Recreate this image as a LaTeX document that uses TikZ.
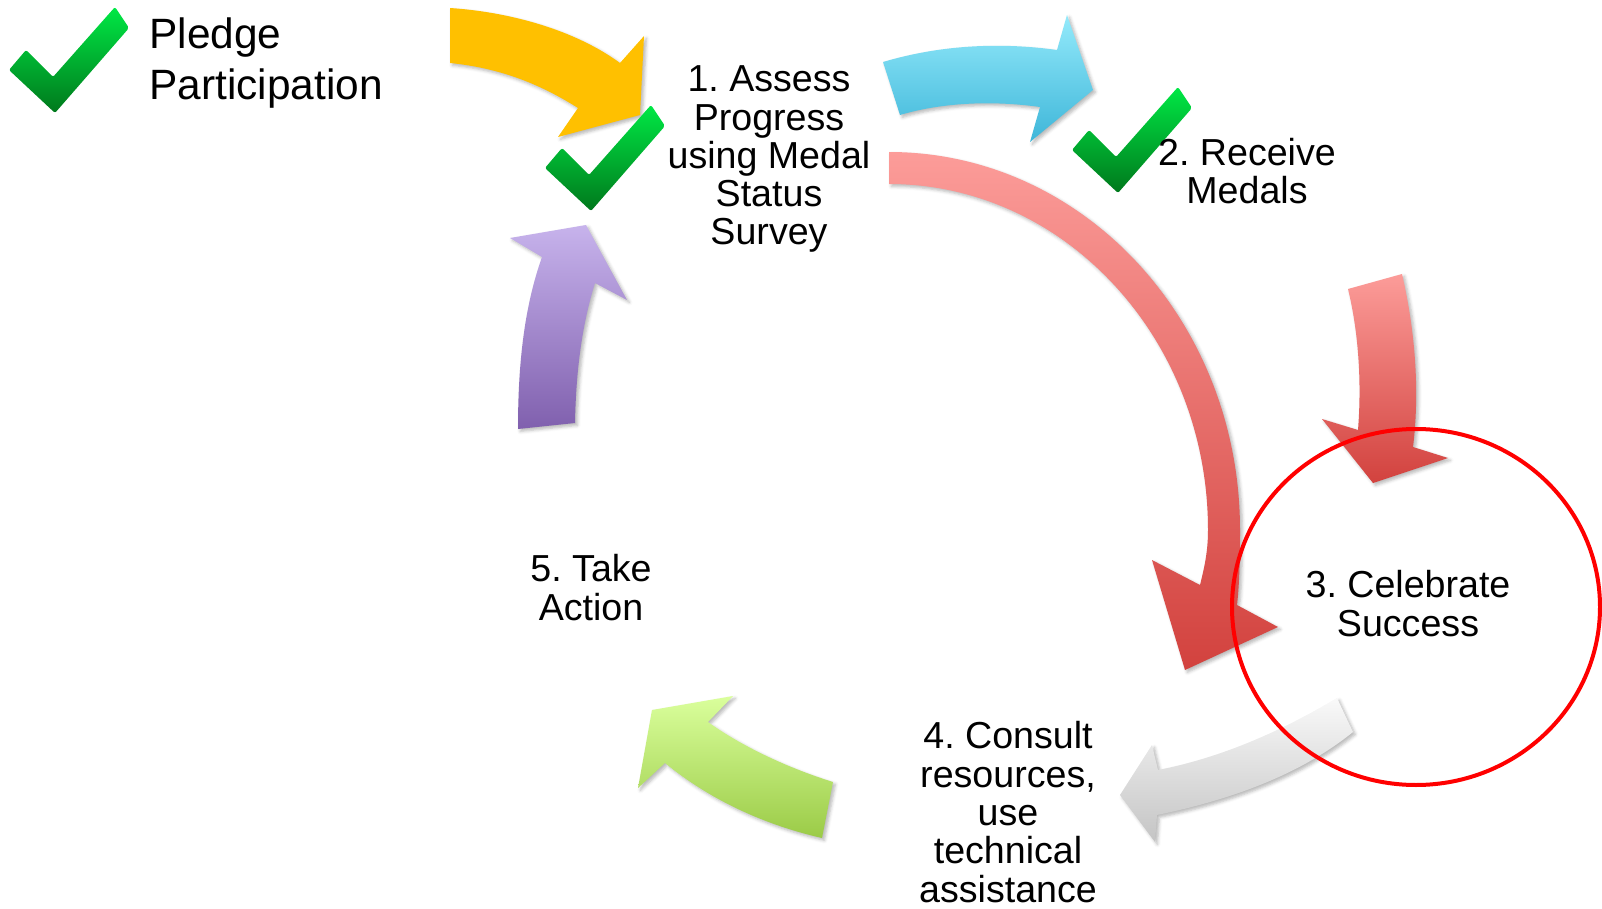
\documentclass[tikz,border=0pt]{standalone}
\usepackage{fontspec}
\setmainfont{Liberation Sans}
\usetikzlibrary{shadows.blur}
\definecolor{ylw}{HTML}{FFC000}
\definecolor{bluTop}{HTML}{94EAFB}
\definecolor{bluBot}{HTML}{3EB6D9}
\definecolor{pnkTop}{HTML}{FC9C99}
\definecolor{pnkMid}{HTML}{F08480}
\definecolor{redBot}{HTML}{D2423E}
\definecolor{gryTop}{HTML}{F9F9F9}
\definecolor{gryBot}{HTML}{C4C4C4}
\definecolor{grnTop}{HTML}{DAFF9C}
\definecolor{grnBot}{HTML}{9BCB47}
\definecolor{prpTop}{HTML}{C7B3EC}
\definecolor{prpBot}{HTML}{8060AE}
\definecolor{chkTop}{HTML}{00E845}
\definecolor{chkBot}{HTML}{00781C}
\tikzset{
  arrowshadow/.style={blur shadow={shadow xshift=1.2pt,shadow yshift=-1.2pt,shadow blur radius=1.6pt,shadow opacity=28}},
  lbl/.style={font=\fontsize{18.8}{19.15}\selectfont\frenchspacing, align=center, inner sep=0pt, anchor=base},
  pledgelbl/.style={font=\fontsize{21.2}{25.5}\selectfont, align=left, inner sep=0pt, anchor=base west},
  ringline/.style={draw=red, line width=2pt},
  checkmark/.pic={
    \shade[top color=chkTop, bottom color=chkBot, rounded corners=1pt]
      (-46,-43) -- (-29,-63) -- (-2,-36) -- (60,-106) -- (74,-85) -- (0,0) -- cycle;
  }
}
\begin{document}
\frenchspacing
\begin{tikzpicture}[x=0.5pt,y=-0.5pt]
\useasboundingbox (0,0) rectangle (1602,909);

% yellow arrow (pledge -> assess)
\fill[arrowshadow, ylw]
  (450,8) .. controls (510,12) and (575,30) .. (620,63)
  -- (644,36) -- (640,115) -- (558,137) -- (578,108)
  .. controls (540,84) and (500,68) .. (450,63) -- cycle;

% blue arrow (1 -> 2)
\shade[arrowshadow, top color=bluTop, bottom color=bluBot]
  (883,62) .. controls (940,45) and (1000,42) .. (1057,50)
  -- (1067,15) -- (1093,90) -- (1030,142) -- (1040,107)
  .. controls (990,100) and (940,103) .. (900,115) -- cycle;

% long red arrow (1 -> 3)
\shade[arrowshadow, top color=pnkTop, middle color=pnkMid, bottom color=redBot]
  (889,152) .. controls (1083,152) and (1240,321) .. (1240,530)
  .. controls (1240,565) and (1239,588) .. (1237,605)
  -- (1278,627) -- (1185,670) -- (1152,560) -- (1200,585)
  .. controls (1205,565) and (1208,550) .. (1208,530)
  .. controls (1208,339) and (1065,184) .. (889,184) -- cycle;

% short red arrow (2 -> 3)
\shade[arrowshadow, top color=pnkTop, bottom color=redBot]
  (1402,274) .. controls (1415,330) and (1420,390) .. (1413,447)
  -- (1448,458) -- (1373,483) -- (1322,419) -- (1358,430)
  .. controls (1362,380) and (1358,330) .. (1348,289) -- cycle;

% grey arrow (3 -> 4)
\shade[arrowshadow, top color=gryTop, bottom color=gryBot]
  (1337,698) .. controls (1280,732) and (1220,758) .. (1158,770)
  -- (1152,745) -- (1120,795) -- (1155,842) -- (1157,815)
  .. controls (1230,800) and (1300,775) .. (1353,732) -- cycle;

% green arrow (4 -> 5)
\shade[arrowshadow, top color=grnTop, bottom color=grnBot]
  (833,782) .. controls (785,767) and (740,745) .. (708,722)
  -- (733,696) -- (652,710) -- (638,788) -- (665,763)
  .. controls (710,800) and (765,825) .. (822,838) -- cycle;

% purple arrow (5 -> 1)
\shade[arrowshadow, top color=prpTop, bottom color=prpBot]
  (518,429) .. controls (518,360) and (525,305) .. (542,257)
  -- (510,238) -- (586,225) -- (627,300) -- (595,283)
  .. controls (582,325) and (576,370) .. (575,423) -- cycle;

% highlight ring round step 3
\draw[ringline] (1416,607) ellipse [x radius=184, y radius=178];

% check marks
\pic (chkpledge) at (55,113) {checkmark};
\pic (chkassess) at (591,211) {checkmark};
\pic (chkmedals) at (1118,193) {checkmark};

% labels (anchor = baseline of the last line)
\node[pledgelbl] (pledge) at (149,100) {Pledge\\Participation};
\node[lbl] (assess) at (769,245) {1. Assess\\Progress\\using Medal\\Status\\Survey};
\node[lbl] (medals) at (1247,204) {2. Receive\\Medals};
\node[lbl] (celebrate) at (1408,636) {3. Celebrate\\Success};
\node[lbl] (consult) at (1008,902) {4. Consult\\resources,\\use\\technical\\assistance};
\node[lbl] (action) at (591,620) {5. Take\\Action};
\end{tikzpicture}
\end{document}
